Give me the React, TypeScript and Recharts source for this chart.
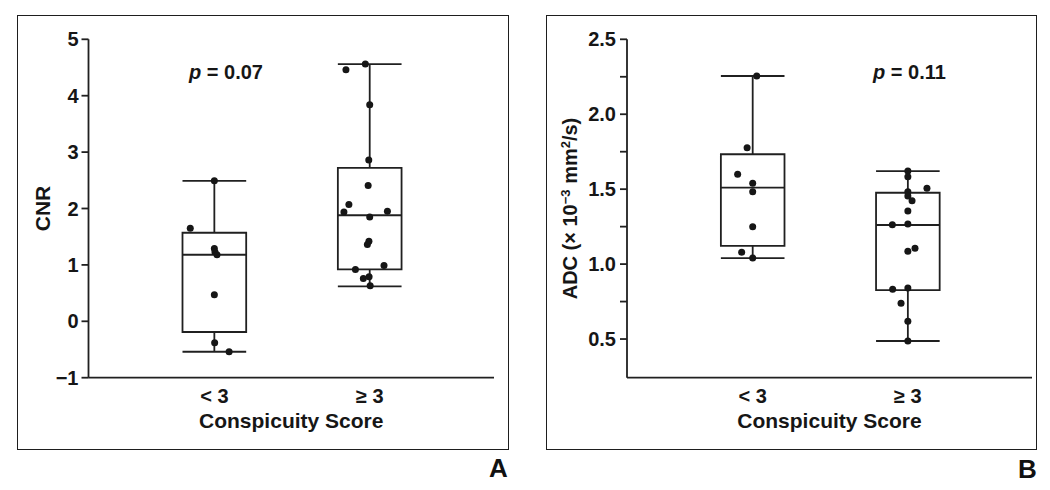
import React from 'react';
import { ScatterChart, Scatter, XAxis, YAxis, ReferenceArea, ReferenceLine } from 'recharts';

// ---------- data ----------
const categories = ['< 3', '≥ 3'];
const categoryPositions = [1, 2];

// Panel A: CNR
const cnrLow = [1.65, 2.49, 1.29, 1.23, 1.18, 0.47, -0.38, -0.54];
const cnrLowJitter = [-0.155, 0, 0, 0.004, 0.017, 0, 0.002, 0.095];
const cnrHigh = [4.46, 4.56, 3.84, 2.86, 2.41, 2.07, 1.94, 1.95, 1.85, 1.42, 1.36, 0.92, 0.99, 0.76, 0.79, 0.63];
const cnrHighJitter = [-0.153, -0.028, 0, -0.006, -0.01, -0.134, -0.166, 0.114, 0, -0.005, -0.015, -0.092, 0.092, -0.041, -0.004, 0.003];
// [min, q1, median, q3, max]
const cnrLowBox = [-0.54, -0.19, 1.18, 1.57, 2.49];
const cnrHighBox = [0.62, 0.92, 1.88, 2.72, 4.56];
const cnrTicks = [-1, 0, 1, 2, 3, 4, 5];

// Panel B: ADC
const adcLow = [2.255, 1.777, 1.599, 1.539, 1.483, 1.25, 1.079, 1.04];
const adcLowJitter = [0.026, -0.036, -0.097, 0, 0, 0, -0.071, 0];
const adcHigh = [1.621, 1.583, 1.506, 1.483, 1.454, 1.423, 1.354, 1.263, 1.267, 1.105, 1.085, 0.832, 0.84, 0.738, 0.618, 0.487];
const adcHighJitter = [0, 0, 0.123, 0, 0, 0.027, 0, -0.1, 0, 0.046, 0, -0.098, 0, -0.044, 0, 0];
const adcLowBox = [1.04, 1.122, 1.51, 1.733, 2.255];
const adcHighBox = [0.487, 0.827, 1.261, 1.476, 1.621];
const adcTicks = [0.5, 0.75, 1.0, 1.25, 1.5, 1.75, 2.0, 2.25, 2.5];

// ---------- style ----------
const FONT = '"Liberation Sans", Arial, Helvetica, sans-serif';
const INK = '#161616';
const LINE = '#202020';
const SW = 1.8;
const BOX_HALF = 0.205;
const X_DOMAIN: [number, number] = [0.19, 2.8];

const toPoints = (values: number[], jitter: number[], pos: number) =>
  values.map((v, i) => ({ x: pos + jitter[i], y: v }));

function boxElements(stats: number[], pos: number, key: string) {
  const [mn, q1, med, q3, mx] = stats;
  const s = { stroke: LINE, strokeWidth: SW };
  return [
    <ReferenceLine key={key + 'wu'} segment={[{ x: pos, y: q3 }, { x: pos, y: mx }]} {...s} />,
    <ReferenceLine key={key + 'wl'} segment={[{ x: pos, y: mn }, { x: pos, y: q1 }]} {...s} />,
    <ReferenceLine key={key + 'cu'} segment={[{ x: pos - BOX_HALF, y: mx }, { x: pos + BOX_HALF, y: mx }]} {...s} />,
    <ReferenceLine key={key + 'cl'} segment={[{ x: pos - BOX_HALF, y: mn }, { x: pos + BOX_HALF, y: mn }]} {...s} />,
    <ReferenceArea key={key + 'box'} x1={pos - BOX_HALF} x2={pos + BOX_HALF} y1={q1} y2={q3} fill="none" fillOpacity={0} stroke={LINE} strokeWidth={SW} />,
    <ReferenceLine key={key + 'med'} segment={[{ x: pos - BOX_HALF, y: med }, { x: pos + BOX_HALF, y: med }]} {...s} />,
  ];
}

const dot = (p: any) => <circle cx={p.cx} cy={p.cy} r={3.5} fill={INK} />;

const XTick = (p: any) => {
  const idx = categoryPositions.indexOf(p.payload.value);
  return (
    <text x={p.x} y={p.y + 25.5} textAnchor="middle" fontSize={20} fontWeight={700} fill={INK} fontFamily={FONT}>
      {categories[idx]}
    </text>
  );
};

const xTitle = (props: any) => {
  const vb = props.viewBox;
  return (
    <text x={vb.x + vb.width / 2} y={vb.y + 50.6} textAnchor="middle" fontSize={21} fontWeight={700} fill={INK} fontFamily={FONT}>
      Conspicuity Score
    </text>
  );
};

const cnrTitle = (props: any) => {
  const vb = props.viewBox;
  const cx = 42.6;
  const cy = vb.y + vb.height / 2;
  return (
    <text x={cx} y={cy} dy="0.358em" transform={`rotate(-90, ${cx}, ${cy})`} textAnchor="middle" fontSize={21} fontWeight={700} fill={INK} fontFamily={FONT}>
      CNR
    </text>
  );
};

const adcTitle = (props: any) => {
  const vb = props.viewBox;
  const cx = 50;
  const cy = vb.y + vb.height / 2;
  return (
    <text x={cx} y={cy} dy="0.358em" transform={`rotate(-90, ${cx}, ${cy})`} textAnchor="middle" fontSize={20} fontWeight={700} fill={INK} fontFamily={FONT}>
      <tspan>ADC (× 10</tspan>
      <tspan dy={-7} fontSize={13}>−3</tspan>
      <tspan dy={7}> mm</tspan>
      <tspan dy={-7} fontSize={13}>2</tspan>
      <tspan dy={7}>/s)</tspan>
    </text>
  );
};

const fmtCnr = (v: number) => (v < 0 ? '−' + Math.abs(v) : String(v));
const fmtAdc = (v: number) => (Math.abs(v * 2 - Math.round(v * 2)) < 1e-9 ? v.toFixed(1) : '');

const axisStroke = { stroke: LINE, strokeWidth: SW };
const yTickStyle = { fontSize: 20, fontWeight: 700, fill: INK, fontFamily: FONT };

export default function App() {
  return (
    <div style={{ position: 'absolute', left: 0, top: 0, width: 1050, height: 490, background: '#fff', fontFamily: FONT, overflow: 'hidden' }}>
      {/* panel frames */}
      <div style={{ position: 'absolute', left: 16.5, top: 15, width: 492.5, height: 434.5, border: '1.6px solid #1e1e1e', boxSizing: 'border-box' }} />
      <div style={{ position: 'absolute', left: 546, top: 15, width: 490.5, height: 434.5, border: '1.6px solid #1e1e1e', boxSizing: 'border-box' }} />

      {/* Panel A */}
      <div style={{ position: 'absolute', left: 0, top: 0 }}>
        <ScatterChart width={520} height={490} margin={{ top: 39.3, right: 26, bottom: 52.3, left: 0 }}>
          <XAxis type="number" dataKey="x" domain={X_DOMAIN} ticks={categoryPositions} allowDataOverflow
            axisLine={axisStroke} tickLine={false} tickSize={0} tickMargin={0} height={60} tick={XTick} label={xTitle} />
          <YAxis type="number" dataKey="y" domain={[-1, 5]} ticks={cnrTicks} allowDataOverflow width={88.5}
            axisLine={axisStroke} tickLine={axisStroke} tickSize={7} tickMargin={3} tick={yTickStyle}
            tickFormatter={fmtCnr} label={cnrTitle} />
          {boxElements(cnrLowBox, categoryPositions[0], 'al')}
          {boxElements(cnrHighBox, categoryPositions[1], 'ah')}
          <Scatter data={toPoints(cnrLow, cnrLowJitter, categoryPositions[0])} shape={dot} isAnimationActive={false} />
          <Scatter data={toPoints(cnrHigh, cnrHighJitter, categoryPositions[1])} shape={dot} isAnimationActive={false} />
        </ScatterChart>
      </div>

      {/* Panel B */}
      <div style={{ position: 'absolute', left: 520, top: 0 }}>
        <ScatterChart width={530} height={490} margin={{ top: 39.3, right: 18, bottom: 52.3, left: 0 }}>
          <XAxis type="number" dataKey="x" domain={X_DOMAIN} ticks={categoryPositions} allowDataOverflow
            axisLine={axisStroke} tickLine={false} tickSize={0} tickMargin={0} height={60} tick={XTick} label={xTitle} />
          <YAxis type="number" dataKey="y" domain={[0.242, 2.5]} ticks={adcTicks} allowDataOverflow width={107}
            axisLine={axisStroke} tickLine={axisStroke} tickSize={7} tickMargin={4} tick={yTickStyle}
            tickFormatter={fmtAdc} label={adcTitle} />
          {boxElements(adcLowBox, categoryPositions[0], 'bl')}
          {boxElements(adcHighBox, categoryPositions[1], 'bh')}
          <Scatter data={toPoints(adcLow, adcLowJitter, categoryPositions[0])} shape={dot} isAnimationActive={false} />
          <Scatter data={toPoints(adcHigh, adcHighJitter, categoryPositions[1])} shape={dot} isAnimationActive={false} />
        </ScatterChart>
      </div>

      {/* p-values */}
      <div style={{ position: 'absolute', left: 189, top: 62, fontSize: 20, lineHeight: '20px', fontWeight: 700, color: INK, whiteSpace: 'nowrap' }}>
        <i>p</i> = 0.07
      </div>
      <div style={{ position: 'absolute', left: 873, top: 62, fontSize: 20, lineHeight: '20px', fontWeight: 700, color: INK, whiteSpace: 'nowrap' }}>
        <i>p</i> = 0.11
      </div>

      {/* panel letters */}
      <div style={{ position: 'absolute', left: 489, top: 454.5, fontSize: 26, lineHeight: '26px', fontWeight: 700, color: '#111' }}>A</div>
      <div style={{ position: 'absolute', left: 1018, top: 455.5, fontSize: 26, lineHeight: '26px', fontWeight: 700, color: '#111' }}>B</div>
    </div>
  );
}
